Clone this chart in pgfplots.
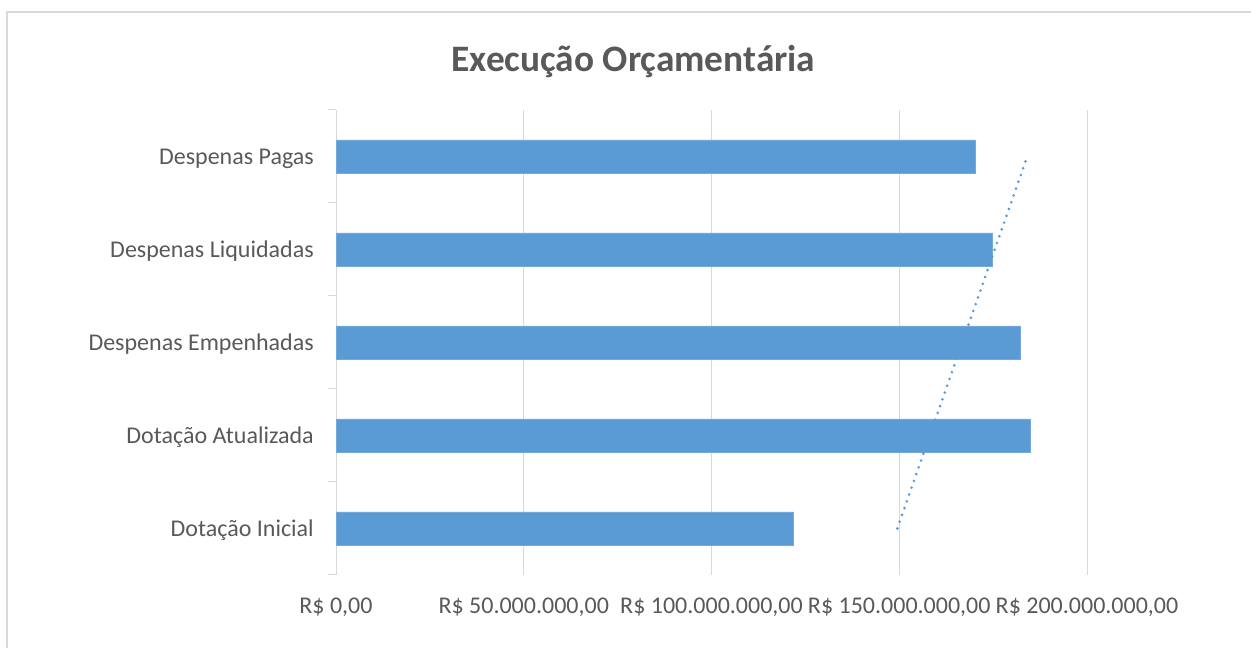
\documentclass[border=0pt]{standalone}
\usepackage{fontspec}
\setmainfont{Carlito}
\usepackage{pgfplots}
\usepackage{pgfplotstable}
\pgfplotsset{compat=1.18}
\definecolor{barblue}{HTML}{5B9BD5}
\definecolor{txtgray}{HTML}{595959}
\definecolor{gridgray}{HTML}{D9D9D9}
\pgfplotstableread{
idx val
1 121.9
2 184.8
3 182.3
4 174.7
5 170.2
}\data
\pgfplotstablecreatecol[linear regression={x=idx,y=val}]{reg}\data
\begin{document}
\begin{tikzpicture}
\path[use as bounding box] (0,0) rectangle (938.25pt,486pt);
\draw[gridgray, line width=1.5pt] (5.25pt,-1pt) -- (5.25pt,477pt) -- (940pt,477pt);
\node[anchor=base, text=txtgray, font=\fontsize{28}{34}\selectfont\bfseries] at (475.1pt,432.5pt) {Execução Orçamentária};
\begin{axis}[
  at={(252pt,54.75pt)}, anchor=south west,
  width=563.25pt, height=348.75pt, scale only axis,
  xmin=0, xmax=200, ymin=0.5, ymax=5.5,
  axis line style={draw=none},
  xtick={0,50,100,150,200},
  xticklabels={{R\$ 0,00},{R\$ 50.000.000,00},{R\$ 100.000.000,00},{R\$ 150.000.000,00},{R\$ 200.000.000,00}},
  xmajorgrids, major grid style={gridgray, line width=0.75pt},
  xtick style={draw=none},
  ytick={1,2,3,4,5},
  yticklabels={Dotação Inicial, Dotação Atualizada, Despenas Empenhadas, Despenas Liquidadas, Despenas Pagas},
  minor ytick={0.5,1.5,2.5,3.5,4.5,5.5},
  ytick pos=left,
  tick align=outside,
  major tick length=0pt,
  minor tick length=6pt,
  minor tick style={gridgray, line width=0.75pt},
  ytick style={gridgray, line width=0.75pt},
  y tick label style={anchor=east, inner sep=0pt, xshift=-16.5pt, yshift=-1.5pt, text=txtgray, font=\fontsize{18}{22}\selectfont},
  x tick label style={anchor=base, inner sep=0pt, yshift=-29.25pt, text=txtgray, font=\fontsize{18}{22}\selectfont},
  clip=false,
]
\addplot[xbar, bar width=24.75pt, fill=barblue, draw=barblue!85!white, line width=0.5pt] table[x=val, y=idx]{\data};
\addplot[barblue, line width=2.2pt, line cap=round, dash pattern=on 0pt off 5.4pt, no marks] table[x=reg, y=idx]{\data};
\end{axis}
\end{tikzpicture}
\end{document}
